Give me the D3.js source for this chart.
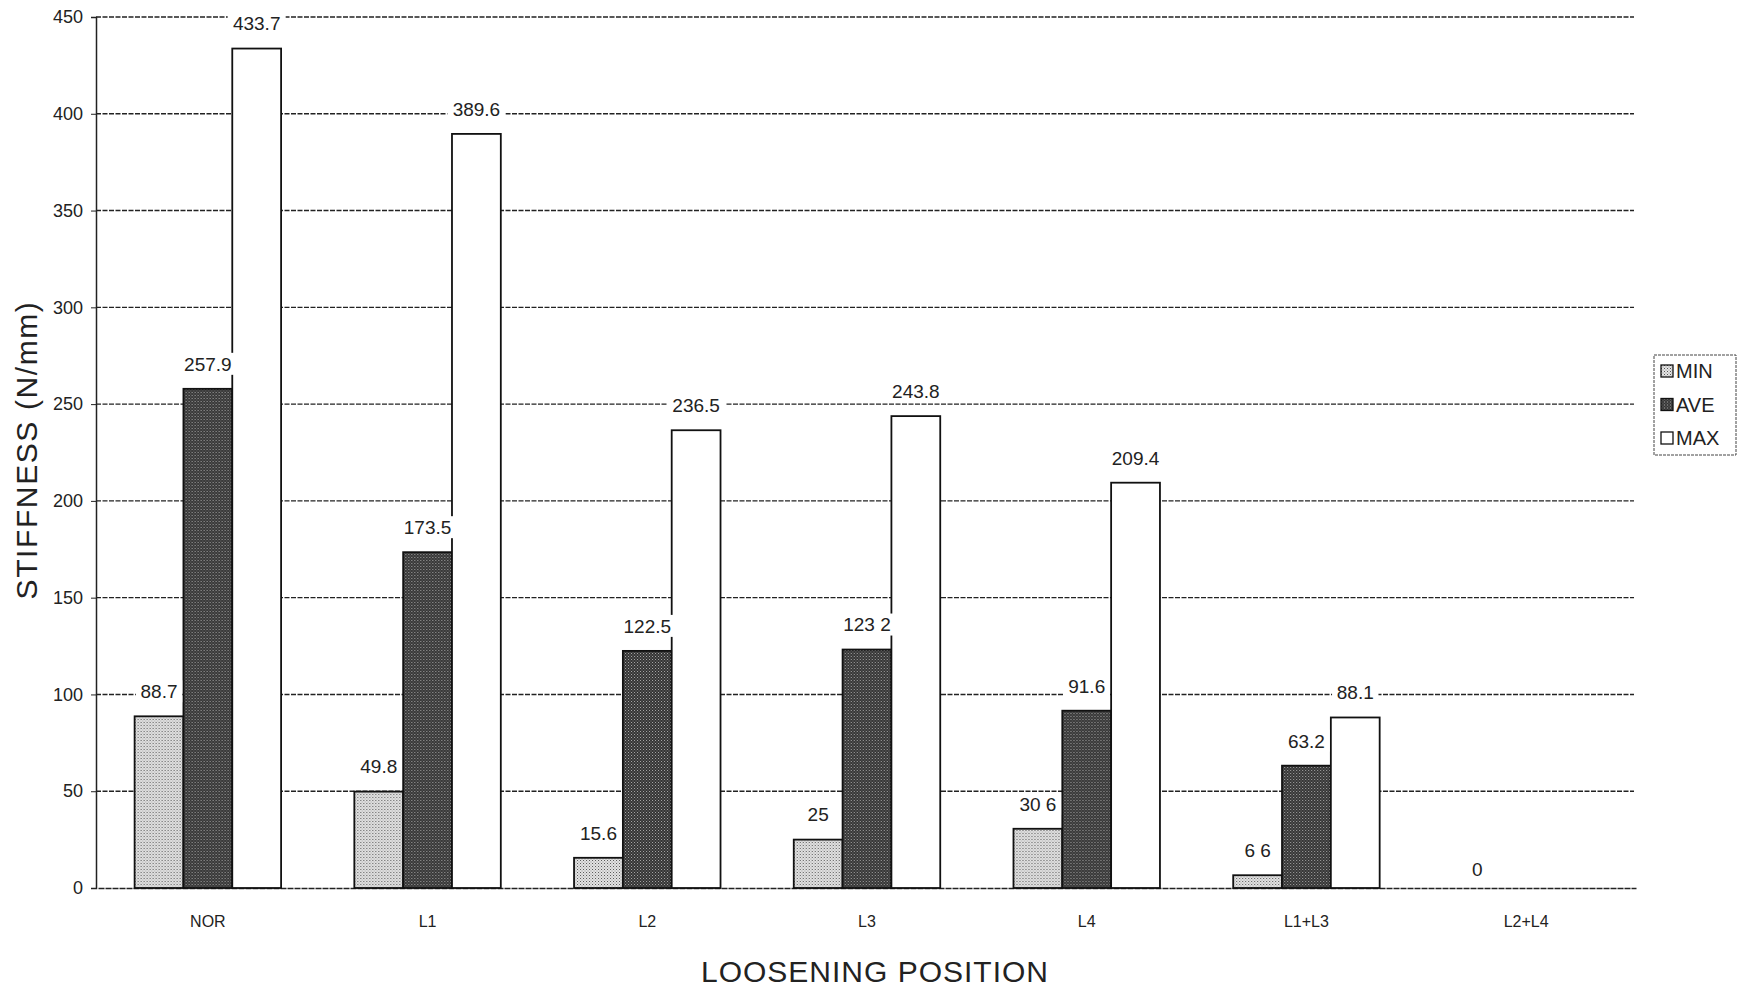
<!DOCTYPE html>
<html>
<head>
<meta charset="utf-8">
<script src="https://cdn.jsdelivr.net/npm/d3@7"></script>
<style>
  body { margin: 0; background: #fff; }
  svg { display: block; font-family: "Liberation Sans", Arial, sans-serif; }
  .tick text { fill: #222; }
</style>
</head>
<body>
<div id="chart"></div>
<script>
// Chart data
const categories = ['NOR', 'L1', 'L2', 'L3', 'L4', 'L1+L3', 'L2+L4']
const seriesNames = ['MIN', 'AVE', 'MAX']
const minValues = [88.7, 49.8, 15.6, 25, 30.6, 6.6, 0]
const aveValues = [257.9, 173.5, 122.5, 123.2, 91.6, 63.2, null]
const maxValues = [433.7, 389.6, 236.5, 243.8, 209.4, 88.1, null]
const valueLabels = {
  MIN: ['88.7', '49.8', '15.6', '25', '30 6', '6 6', '0'],
  AVE: ['257.9', '173.5', '122.5', '123 2', '91.6', '63.2', ''],
  MAX: ['433.7', '389.6', '236.5', '243.8', '209.4', '88.1', '']
}
const yTicks = [0, 50, 100, 150, 200, 250, 300, 350, 400, 450]

const W = 1737, H = 990
const margin = { top: 17, right: 103, bottom: 102, left: 96 }
const width = W - margin.left - margin.right,
      height = H - margin.top - margin.bottom

const svg = d3.select('#chart').append('svg')
    .attr('width', W)
    .attr('height', H)

// Patterns for the bar fills
const defs = svg.append('defs')
let pMin = defs.append('pattern')
    .attr('id', 'pat-min').attr('width', 3).attr('height', 3)
    .attr('patternUnits', 'userSpaceOnUse')
pMin.append('rect').attr('width', 3).attr('height', 3).attr('fill', '#e4e4e4')
pMin.append('rect').attr('width', 1).attr('height', 1).attr('fill', '#555')
pMin.append('rect').attr('x', 1.5).attr('y', 1.5).attr('width', 1).attr('height', 1).attr('fill', '#888')

let pAve = defs.append('pattern')
    .attr('id', 'pat-ave').attr('width', 3).attr('height', 3)
    .attr('patternUnits', 'userSpaceOnUse')
pAve.append('rect').attr('width', 3).attr('height', 3).attr('fill', '#333')
pAve.append('rect').attr('width', 1).attr('height', 1).attr('fill', '#aaa')
pAve.append('rect').attr('x', 1.5).attr('y', 1.5).attr('width', 1).attr('height', 1).attr('fill', '#888')

const fills = { MIN: 'url(#pat-min)', AVE: 'url(#pat-ave)', MAX: '#fff' }
const seriesData = { MIN: minValues, AVE: aveValues, MAX: maxValues }

const g = svg.append('g')
    .attr('transform', 'translate(' + margin.left + ',' + margin.top + ')')

// Scales
const x0 = d3.scaleBand()
    .domain(categories)
    .range([2, width + 2])
    .paddingInner(1 / 3)
    .paddingOuter(1 / 6)
const x1 = d3.scaleBand()
    .domain(seriesNames)
    .range([0, x0.bandwidth()])
const y = d3.scaleLinear()
    .domain([0, 450])
    .range([height, 0])

// Gridlines
g.append('g')
  .selectAll('line')
  .data(yTicks.filter(d => d > 0))
  .join('line')
    .attr('x1', 0)
    .attr('x2', width)
    .attr('y1', d => y(d))
    .attr('y2', d => y(d))
    .attr('stroke', '#222')
    .attr('stroke-width', 1.4)
    .attr('stroke-dasharray', '5,1.5')

// Y axis
const yAxis = d3.axisLeft(y).tickValues(yTicks).tickSize(5).tickPadding(8)
g.append('g')
  .attr('class', 'axis axis-y')
  .call(yAxis)
  .call(a => a.select('.domain').attr('stroke', '#222').attr('stroke-width', 1.5))
  .call(a => a.selectAll('.tick line').attr('stroke', '#222'))
  .call(a => a.selectAll('.tick text').attr('font-size', 18))

// X axis
const xAxis = d3.axisBottom(x0).tickSize(0).tickPadding(28)
g.append('g')
  .attr('class', 'axis axis-x')
  .attr('transform', 'translate(0,' + height + ')')
  .call(xAxis)
  .call(a => a.select('.domain').attr('stroke', '#222').attr('stroke-width', 1.3).attr('stroke-dasharray', '6,1'))
  .call(a => a.selectAll('.tick text').attr('font-size', 16))

// Bars
const groups = g.append('g')
  .selectAll('g')
  .data(categories)
  .join('g')
    .attr('transform', d => 'translate(' + x0(d) + ',0)')

groups.selectAll('rect')
  .data((c, i) => seriesNames.map(s => ({ s: s, v: seriesData[s][i] })))
  .join('rect')
    .filter(d => d.v !== null && d.v > 0)
    .attr('x', d => x1(d.s))
    .attr('y', d => y(d.v))
    .attr('width', x1.bandwidth())
    .attr('height', d => height - y(d.v))
    .attr('fill', d => fills[d.s])
    .attr('stroke', '#111')
    .attr('stroke-width', 1.8)

// Value labels with white background
const labels = groups.selectAll('g.lbl')
  .data((c, i) => seriesNames.map(s => ({ s: s, v: seriesData[s][i], t: valueLabels[s][i] })))
  .join('g')
    .attr('class', 'lbl')
    .filter(d => d.v !== null && d.t !== '')
    .attr('transform', d => 'translate(' + (x1(d.s) + x1.bandwidth() / 2) + ',' + (y(d.v) - (d.v === 0 ? 19 : 25)) + ')')

labels.append('rect')
    .attr('x', d => -d.t.length * 5.8)
    .attr('y', -11)
    .attr('width', d => d.t.length * 11.6)
    .attr('height', 22)
    .attr('fill', '#fff')

labels.append('text')
    .attr('text-anchor', 'middle')
    .attr('dy', '0.36em')
    .attr('font-size', 19)
    .attr('fill', '#222')
    .text(d => d.t)

// Axis titles
svg.append('text')
  .attr('transform', 'translate(37,450) rotate(-90)')
  .attr('text-anchor', 'middle')
  .attr('font-size', 30)
  .attr('letter-spacing', 1.6)
  .attr('fill', '#222')
  .text('STIFFNESS (N/mm)')

svg.append('text')
  .attr('x', 875)
  .attr('y', 982)
  .attr('text-anchor', 'middle')
  .attr('font-size', 30)
  .attr('letter-spacing', 1)
  .attr('fill', '#222')
  .text('LOOSENING POSITION')

// Legend
const legend = svg.append('g')
    .attr('transform', 'translate(1654,355)')
legend.append('rect')
    .attr('width', 82)
    .attr('height', 100)
    .attr('fill', '#fff')
    .attr('stroke', '#444')
    .attr('stroke-width', 1)
    .attr('stroke-dasharray', '3,1')
const items = legend.selectAll('g.item')
  .data(seriesNames)
  .join('g')
    .attr('class', 'item')
    .attr('transform', (d, i) => 'translate(7,' + (16 + i * 33.5) + ')')
items.append('rect')
    .attr('y', -6)
    .attr('width', 12)
    .attr('height', 12)
    .attr('fill', d => fills[d])
    .attr('stroke', '#111')
    .attr('stroke-width', 1.3)
items.append('text')
    .attr('x', 15)
    .attr('dy', '0.36em')
    .attr('font-size', 20)
    .attr('fill', '#222')
    .text(d => d)
</script>
</body>
</html>
